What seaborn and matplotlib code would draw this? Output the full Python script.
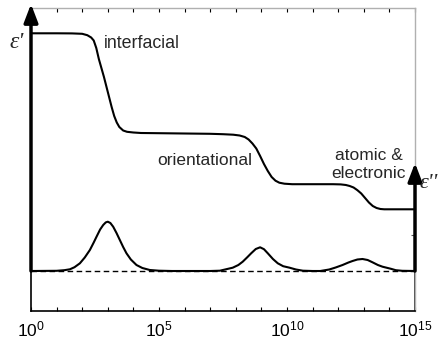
import numpy as np
import pandas as pd
import matplotlib
matplotlib.use("Agg")
import matplotlib.pyplot as plt
import seaborn as sns

# ---- data (log10 of frequency, curve height) ----
eps_real_logf = [0.0, 1.0, 1.6, 2.0, 2.2, 2.35, 2.45, 2.55, 2.65, 2.75, 2.85, 2.95,
                 3.05, 3.15, 3.25, 3.35, 3.45, 3.6, 3.75, 4.0, 4.3, 5.0, 6.0, 7.0,
                 7.5, 7.9, 8.15, 8.35, 8.5, 8.65, 8.8, 8.95, 9.1, 9.25, 9.4, 9.55,
                 9.7, 9.9, 10.2, 11.0, 11.8, 12.1, 12.3, 12.45, 12.6, 12.75, 12.9,
                 13.05, 13.2, 13.35, 13.5, 13.65, 13.8, 14.2, 15.0]
eps_real_val = [237.7, 237.7, 237.6, 237.2, 235.8, 233.5, 230.5, 223.0, 212.0, 203.0,
                194.0, 184.0, 174.0, 164.0, 155.0, 148.5, 144.0, 140.5, 139.2, 138.5,
                138.0, 137.8, 137.5, 137.2, 136.8, 136.3, 135.5, 134.0, 131.5, 127.5,
                122.5, 115.0, 107.0, 100.0, 94.0, 90.3, 88.3, 87.3, 86.8, 86.8, 86.8,
                86.6, 86.0, 85.0, 83.5, 80.8, 77.5, 73.0, 68.5, 65.0, 63.0, 62.0,
                61.7, 61.7, 61.7]

eps_imag_logf = [0.0, 1.0, 1.3, 1.52, 1.7, 1.91, 2.1, 2.3, 2.45, 2.56, 2.7, 2.82,
                 2.92, 3.0, 3.1, 3.21, 3.34, 3.47, 3.6, 3.73, 3.9, 4.12, 4.35, 4.64,
                 5.0, 5.5, 7.0, 7.38, 7.88, 8.1, 8.27, 8.45, 8.6, 8.78, 8.95, 9.1,
                 9.25, 9.45, 9.64, 9.85, 10.1, 10.35, 10.62, 11.0, 11.3, 11.65, 11.9,
                 12.17, 12.4, 12.56, 12.75, 12.95, 13.15, 13.34, 13.55, 13.73, 14.06,
                 14.25, 14.5, 15.0]
eps_imag_val = [0.0, 0.2, 0.8, 1.7, 3.8, 7.7, 13.5, 21.0, 28.5, 34.3, 41.5, 46.0,
                48.6, 49.3, 48.0, 44.3, 38.0, 31.0, 24.0, 17.7, 11.5, 6.0, 3.0, 1.0,
                0.3, 0.0, 0.0, 0.3, 3.3, 6.0, 9.3, 13.8, 17.7, 22.0, 23.7, 21.8,
                17.7, 12.0, 7.7, 4.8, 3.3, 1.5, 0.3, 0.0, 0.0, 1.5, 3.5,
                6.0, 8.5, 10.0, 11.5, 12.0, 11.0, 8.7, 6.0, 4.3, 2.2,
                0.8, 0.2, 0.0]

tick_exponents = list(range(0, 16))
labelled_exponents = [0, 5, 10, 15]
region_labels = ["interfacial", "orientational", "atomic &\nelectronic"]

# ---- build tables ----
df_real = pd.DataFrame({"f": np.power(10.0, eps_real_logf), "v": eps_real_val})
df_imag = pd.DataFrame({"f": np.power(10.0, eps_imag_logf), "v": eps_imag_val})

sns.set_style("white")
plt.rcParams["font.family"] = ["Liberation Sans", "DejaVu Sans"]
plt.rcParams["mathtext.fontset"] = "custom"
plt.rcParams["mathtext.rm"] = "Liberation Sans"
plt.rcParams["mathtext.it"] = "Liberation Sans:italic"

fig = plt.figure(figsize=(4.38, 3.39), dpi=100)
ax = fig.add_axes([31 / 438, 28 / 339, 384 / 438, 303 / 339])

ax.axhline(0, color="black", lw=1.0, ls=(0, (4, 2.5)), zorder=1)
sns.lineplot(data=df_real, x="f", y="v", ax=ax, color="black", lw=1.5,
             estimator=None, sort=False, zorder=3)
sns.lineplot(data=df_imag, x="f", y="v", ax=ax, color="black", lw=1.5,
             estimator=None, sort=False, zorder=3)

ax.set_xscale("log")
ax.set_xlim(1e0, 1e15)
ax.set_ylim(-40, 263)
ax.set_xlabel("")
ax.set_ylabel("")

ax.set_xticks([10.0 ** k for k in tick_exponents])
ax.set_xticklabels([("$10^{%d}$" % k) if k in labelled_exponents else ""
                    for k in tick_exponents], fontsize=12.5)
ax.xaxis.set_minor_locator(matplotlib.ticker.NullLocator())
ax.set_yticks([36])
ax.set_yticklabels([])
ax.tick_params(axis="x", which="major", direction="in", length=3, width=0.8,
               top=True, bottom=True, pad=6, colors="black")
ax.tick_params(axis="y", which="major", direction="in", length=3, width=0.8,
               left=False, right=True, colors="#555555")
for t in ax.xaxis.get_major_ticks():
    t.tick2line.set_color("#b0b0b0")

for side in ["top", "right"]:
    ax.spines[side].set_color("#b0b0b0")
    ax.spines[side].set_linewidth(1.0)
for side in ["left", "bottom"]:
    ax.spines[side].set_color("black")
    ax.spines[side].set_linewidth(1.2)
ax.axvline(1e15, ymin=0, ymax=40 / 303, color="#222222", lw=1.2, zorder=2)

# arrows
ax.annotate("", xy=(1e0, 267), xytext=(1e0, 0), annotation_clip=False,
            arrowprops=dict(arrowstyle="-|>,head_length=1.1,head_width=0.42",
                            lw=2.5, color="black", shrinkA=0, shrinkB=0))
ax.annotate("", xy=(1e15, 108), xytext=(1e15, 0), annotation_clip=False,
            arrowprops=dict(arrowstyle="-|>,head_length=1.1,head_width=0.42",
                            lw=2.5, color="black", shrinkA=0, shrinkB=0))

# labels
ax.text(10 ** 2.85, 228, region_labels[0], fontsize=12.8, ha="left", va="center")
ax.text(10 ** 4.95, 111, region_labels[1], fontsize=12.5, ha="left", va="center")
ax.text(10 ** 13.2, 107, region_labels[2], fontsize=12.5, ha="center", va="center",
        linespacing=1.25)
ax.text(10 ** -0.55, 229, "ε'", fontsize=17, ha="center", va="center",
        family=["Liberation Serif", "DejaVu Serif"], style="italic", clip_on=False)
ax.text(10 ** 15.55, 88, "ε''", fontsize=16, ha="center", va="center",
        family=["Liberation Serif", "DejaVu Serif"], style="italic", clip_on=False)

fig.savefig("out.png", dpi=100)
